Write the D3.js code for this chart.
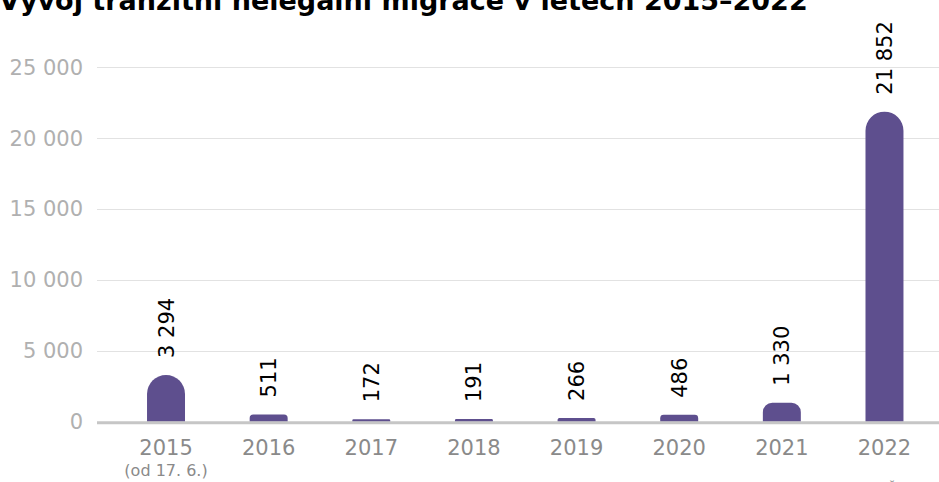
<!DOCTYPE html>
<html>
<head>
<meta charset="utf-8">
<script src="https://cdn.jsdelivr.net/npm/d3@7"></script>
<style>
  body { margin: 0; background: #fff; }
  svg { display: block; font-family: "DejaVu Sans", Verdana, sans-serif; }
</style>
</head>
<body>
<svg id="chart" width="939" height="482"></svg>
<script>
var years = ["2015", "2016", "2017", "2018", "2019", "2020", "2021", "2022"];
var subLabels = ["(od 17. 6.)", "", "", "", "", "", "", ""];
var migrants = [3294, 511, 172, 191, 266, 486, 1330, 21852];
var yTicks = [0, 5000, 10000, 15000, 20000, 25000];

var width = 939, height = 482;
var svg = d3.select("#chart");

var fmt = function (v) {
    return d3.format(",")(v).replace(/,/g, " ");
};

var x = d3.scaleBand()
    .domain(years)
    .range([114.7, 935.8])
    .paddingInner(0.63)
    .paddingOuter(0.315);

var y = d3.scaleLinear()
    .domain([0, 25000])
    .range([421.7, 67]);

// title (partly cut off at the top like in the original)
svg.append("text")
    .attr("x", -1)
    .attr("y", 10)
    .attr("font-weight", "bold")
    .attr("font-size", 27)
    .attr("fill", "#000")
    .text("Vývoj tranzitní nelegální migrace v letech 2015–2022");

// gridlines
svg.append("g")
    .selectAll("line")
    .data(yTicks.filter(d => d > 0))
    .enter()
    .append("line")
    .attr("x1", 97)
    .attr("x2", width)
    .attr("y1", d => Math.round(y(d)) + 0.5)
    .attr("y2", d => Math.round(y(d)) + 0.5)
    .attr("stroke", "#e2e2e2")
    .attr("stroke-width", 1);

// y tick labels
svg.append("g")
    .selectAll("text")
    .data(yTicks)
    .enter()
    .append("text")
    .attr("x", 83)
    .attr("y", d => y(d))
    .attr("dy", "0.36em")
    .attr("text-anchor", "end")
    .attr("font-size", 21)
    .attr("fill", "#b0b0b0")
    .text(fmt);

// bars with rounded tops
var barPath = function (d, i) {
    var x0 = x(years[i]), w = x.bandwidth();
    var yb = y(0), yt = y(d);
    var h = yb - yt;
    var r = Math.min(w / 2, h / 2);
    return "M" + x0 + "," + yb +
        "L" + x0 + "," + (yt + r) +
        "A" + r + "," + r + " 0 0 1 " + (x0 + r) + "," + yt +
        "L" + (x0 + w - r) + "," + yt +
        "A" + r + "," + r + " 0 0 1 " + (x0 + w) + "," + (yt + r) +
        "L" + (x0 + w) + "," + yb + "Z";
};

svg.append("g")
    .selectAll("path")
    .data(migrants)
    .enter()
    .append("path")
    .attr("d", barPath)
    .attr("fill", "#5e4f8e");

// zero line
svg.append("line")
    .attr("x1", 97)
    .attr("x2", width)
    .attr("y1", y(0) + 1)
    .attr("y2", y(0) + 1)
    .attr("stroke", "#c6c6c6")
    .attr("stroke-width", 3);

// value labels, rotated
svg.append("g")
    .selectAll("text")
    .data(migrants)
    .enter()
    .append("text")
    .attr("transform", (d, i) => "translate(" + (x(years[i]) + x.bandwidth() / 2) + "," + (y(d) - 17) + ") rotate(-90)")
    .attr("dy", "0.36em")
    .attr("font-size", 21)
    .attr("fill", "#000")
    .text(fmt);

// x labels
var xl = svg.append("g")
    .selectAll("g")
    .data(years)
    .enter()
    .append("g")
    .attr("transform", d => "translate(" + (x(d) + x.bandwidth() / 2) + ",0)");

xl.append("text")
    .attr("y", 455)
    .attr("text-anchor", "middle")
    .attr("font-size", 21)
    .attr("fill", "#8a8a8a")
    .text(d => d);

xl.append("text")
    .attr("y", 476)
    .attr("text-anchor", "middle")
    .attr("font-size", 16)
    .attr("fill", "#8a8a8a")
    .text((d, i) => subLabels[i]);

// source note, mostly below the visible area
svg.append("text")
    .attr("x", 906)
    .attr("y", 494)
    .attr("text-anchor", "end")
    .attr("font-size", 14)
    .attr("fill", "#8a8a8a")
    .text("Zdroj: Policie ČR");
</script>
</body>
</html>
